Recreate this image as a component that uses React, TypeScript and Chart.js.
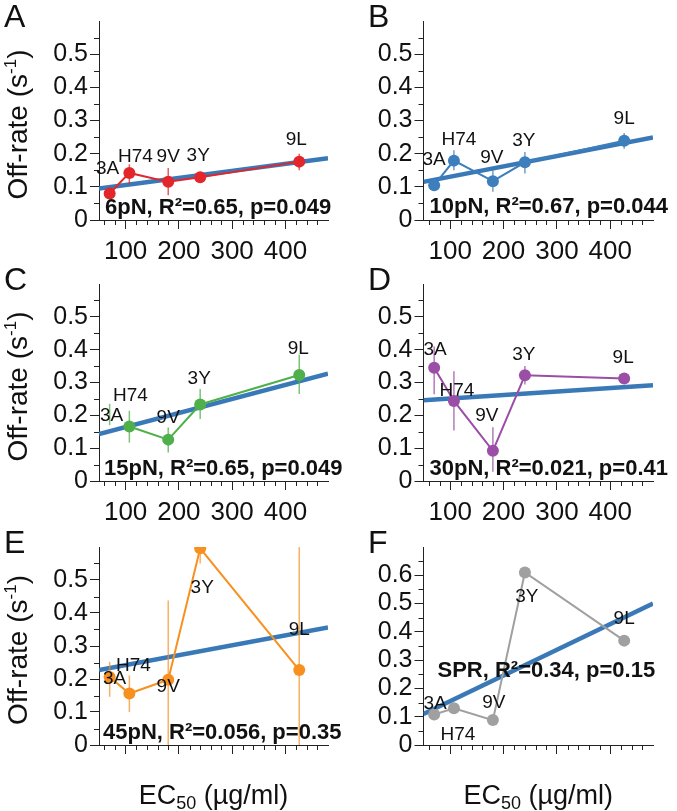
import React, { useEffect, useRef } from 'react';
import { Chart, registerables } from 'chart.js';

Chart.register(...registerables);

const FONT = '"Liberation Sans", Arial, Helvetica, sans-serif';

// ---------- data ----------
const strains = ['3A', 'H74', '9V', '3Y', '9L'];
const ec50 = [70, 107, 180, 240, 426];
const fitX = [50, 480];

const xTicks = [100, 200, 300, 400];
const xMinorTicks = [60, 80, 120, 140, 160, 180, 220, 240, 260, 280, 320, 340, 360, 380, 420, 440, 460];
const yTicksForce = [0, 0.1, 0.2, 0.3, 0.4, 0.5];
const yMinorForce = [0.05, 0.15, 0.25, 0.35, 0.45, 0.55];
const yTicksSpr = [0, 0.1, 0.2, 0.3, 0.4, 0.5, 0.6];
const yMinorSpr = [0.05, 0.15, 0.25, 0.35, 0.45, 0.55, 0.65];

const rate6 = [0.080, 0.142, 0.115, 0.129, 0.176];
const low6 = [0.065, 0.108, 0.075, 0.115, 0.150];
const high6 = [0.098, 0.168, 0.157, 0.145, 0.200];
const fit6 = [0.095, 0.186];

const rate10 = [0.105, 0.179, 0.117, 0.174, 0.239];
const low10 = [0.095, 0.150, 0.085, 0.140, 0.215];
const high10 = [0.115, 0.210, 0.150, 0.205, 0.262];
const fit10 = [0.115, 0.249];

const rate15 = [null, 0.166, 0.126, 0.233, 0.323];
const low15 = [0.170, 0.117, 0.087, 0.189, 0.265];
const high15 = [0.235, 0.214, 0.163, 0.280, 0.385];
const fit15 = [0.143, 0.327];

const rate30 = [0.345, 0.244, 0.092, 0.322, 0.312];
const low30 = [0.264, 0.154, 0.028, 0.294, 0.302];
const high30 = [0.410, 0.334, 0.164, 0.350, 0.322];
const fit30 = [0.246, 0.292];

const rate45 = [0.206, 0.156, 0.198, 0.596, 0.227];
const low45 = [0.146, 0.100, -0.01, 0.550, -0.01];
const high45 = [0.252, 0.211, 0.438, 0.640, 0.650];
const fit45 = [0.227, 0.356];

const rateSpr = [0.108, 0.130, 0.088, 0.610, 0.369];
const lowSpr = [null, null, null, null, null];
const highSpr = [null, null, null, null, null];
const fitSpr = [0.110, 0.500];

const stat6 = '6pN, R²=0.65, p=0.049';
const stat10 = '10pN, R²=0.67, p=0.044';
const stat15 = '15pN, R²=0.65, p=0.049';
const stat30 = '30pN, R²=0.021, p=0.41';
const stat45 = '45pN, R²=0.056, p=0.35';
const statSpr = 'SPR, R²=0.34, p=0.15';

// ---------- layout / style ----------
const FIT_COLOR = '#3a79b7';
const LEFT_CANVAS = { left: 0, width: 345 };
const RIGHT_CANVAS = { left: 337, width: 340 };
const ROWS = [
  { top: 0, height: 265, plotTop: 21, plotBottom: 220 },
  { top: 260, height: 268, plotTop: 284, plotBottom: 481 },
  { top: 522, height: 289, plotTop: 547, plotBottom: 745 },
];
const COLS = [
  { canvas: LEFT_CANVAS, plotLeft: 99, plotRight: 328, letterX: 4 },
  { canvas: RIGHT_CANVAS, plotLeft: 423.5, plotRight: 653, letterX: 368 },
];

type Panel = {
  letter: string; row: number; col: number;
  color: string; errColor: string;
  values: (number | null)[]; low: (number | null)[]; high: (number | null)[];
  fit: number[]; stat: string; statDx: number; statDy: number;
  yMax: number; yTicks: number[]; yMinor: number[];
  yTitle: boolean; xLabels: boolean; xTitle: boolean;
  labelOffsets: number[][];
};

const panels: Panel[] = [
  {
    letter: 'A', row: 0, col: 0, color: '#e3262b', errColor: 'rgba(227,38,43,0.75)',
    values: rate6, low: low6, high: high6, fit: fit6, stat: stat6, statDx: 6, statDy: -6,
    yMax: 0.6, yTicks: yTicksForce, yMinor: yMinorForce, yTitle: true, xLabels: true, xTitle: false,
    labelOffsets: [[-2, -25], [6, -16], [0, -25], [-2, -21], [-3, -22]],
  },
  {
    letter: 'B', row: 0, col: 1, color: '#3d7ebd', errColor: 'rgba(61,126,189,0.75)',
    values: rate10, low: low10, high: high10, fit: fit10, stat: stat10, statDx: 6, statDy: -7,
    yMax: 0.6, yTicks: yTicksForce, yMinor: yMinorForce, yTitle: false, xLabels: true, xTitle: false,
    labelOffsets: [[0, -25], [5, -21], [-1, -23], [-1, -22], [0, -22]],
  },
  {
    letter: 'C', row: 1, col: 0, color: '#4fb04b', errColor: 'rgba(79,176,75,0.75)',
    values: rate15, low: low15, high: high15, fit: fit15, stat: stat15, statDx: 5, statDy: -6,
    yMax: 0.6, yTicks: yTicksForce, yMinor: yMinorForce, yTitle: true, xLabels: true, xTitle: false,
    labelOffsets: [[2, 1], [1, -31], [0, -22], [-1, -26], [-1, -26]],
  },
  {
    letter: 'D', row: 1, col: 1, color: '#9b4ea6', errColor: 'rgba(155,78,166,0.75)',
    values: rate30, low: low30, high: high30, fit: fit30, stat: stat30, statDx: 6, statDy: -6,
    yMax: 0.6, yTicks: yTicksForce, yMinor: yMinorForce, yTitle: false, xLabels: true, xTitle: false,
    labelOffsets: [[1, -18], [3, -10], [-6, -35], [-1, -21], [-1, -21]],
  },
  {
    letter: 'E', row: 2, col: 0, color: '#f7901e', errColor: 'rgba(247,144,30,0.7)',
    values: rate45, low: low45, high: high45, fit: fit45, stat: stat45, statDx: 4, statDy: -6,
    yMax: 0.6, yTicks: yTicksForce, yMinor: yMinorForce, yTitle: true, xLabels: false, xTitle: true,
    labelOffsets: [[5, 2], [4, -28], [0, 7], [2, 39], [0, -40]],
  },
  {
    letter: 'F', row: 2, col: 1, color: '#a0a0a0', errColor: 'rgba(160,160,160,0.75)',
    values: rateSpr, low: lowSpr, high: highSpr, fit: fitSpr, stat: statSpr, statDx: 14, statDy: -68,
    yMax: 0.7, yTicks: yTicksSpr, yMinor: yMinorSpr, yTitle: false, xLabels: false, xTitle: true,
    labelOffsets: [[1, -11], [4, 27], [1, -17], [2, 24], [0, -22]],
  },
];

function fmtTick(v: number) {
  if (v === 0) return '0';
  return (Math.round(v * 10) / 10).toString();
}

function drawParts(ctx: CanvasRenderingContext2D, parts: { t: string; size: number; dy: number }[], cx: number, cy: number) {
  let total = 0;
  parts.forEach((p) => {
    ctx.font = `${p.size}px ${FONT}`;
    total += ctx.measureText(p.t).width;
  });
  let x = cx - total / 2;
  ctx.textAlign = 'left';
  ctx.textBaseline = 'alphabetic';
  parts.forEach((p) => {
    ctx.font = `${p.size}px ${FONT}`;
    ctx.fillText(p.t, x, cy + p.dy);
    x += ctx.measureText(p.t).width;
  });
}

function PanelChart({ p }: { p: Panel }) {
  const ref = useRef<HTMLCanvasElement | null>(null);
  const row = ROWS[p.row];
  const col = COLS[p.col];
  const cv = { left: col.canvas.left, width: col.canvas.width, top: row.top, height: row.height };

  useEffect(() => {
    if (!ref.current) return;
    const yWidth = col.plotLeft - cv.left;
    const padRight = cv.left + cv.width - col.plotRight;
    const padTop = row.plotTop - cv.top;
    const xHeight = cv.top + cv.height - row.plotBottom;

    const overlay = {
      id: 'overlay' + p.letter,
      afterDatasetDraw(chart: any, args: any) {
        if (args.index !== 1) return;
        const { ctx, chartArea: a } = chart;
        const xs = chart.scales.x;
        const ys = chart.scales.y;
        ctx.save();
        ctx.beginPath();
        ctx.rect(a.left, a.top, a.right - a.left, a.bottom - a.top);
        ctx.clip();
        ctx.strokeStyle = p.errColor;
        ctx.lineWidth = 1.5;
        p.low.forEach((lo, i) => {
          const hi = p.high[i];
          if (lo == null || hi == null) return;
          const px = xs.getPixelForValue(ec50[i]);
          ctx.beginPath();
          ctx.moveTo(px, ys.getPixelForValue(lo));
          ctx.lineTo(px, ys.getPixelForValue(hi));
          ctx.stroke();
        });
        ctx.restore();
      },
      afterDraw(chart: any) {
        const { ctx, chartArea: a } = chart;
        const xs = chart.scales.x;
        const ys = chart.scales.y;
        ctx.save();
        // minor ticks
        ctx.strokeStyle = '#222';
        ctx.lineWidth = 1;
        ctx.beginPath();
        xMinorTicks.forEach((v) => {
          const px = Math.round(xs.getPixelForValue(v)) + 0.5;
          ctx.moveTo(px, a.bottom);
          ctx.lineTo(px, a.bottom + 5);
        });
        p.yMinor.forEach((v) => {
          const py = Math.round(ys.getPixelForValue(v)) + 0.5;
          ctx.moveTo(a.left - 5, py);
          ctx.lineTo(a.left, py);
        });
        ctx.stroke();

        // point labels
        ctx.fillStyle = '#111';
        ctx.font = `19px ${FONT}`;
        ctx.textAlign = 'center';
        ctx.textBaseline = 'middle';
        strains.forEach((s, i) => {
          let v = p.values[i];
          if (v == null) {
            const lo = p.low[i], hi = p.high[i];
            v = lo != null && hi != null ? (lo + hi) / 2 : 0;
          }
          const px = xs.getPixelForValue(ec50[i]);
          const py = ys.getPixelForValue(v);
          const off = p.labelOffsets[i];
          ctx.fillText(s, px + off[0], py + off[1]);
        });

        // stats text
        ctx.font = `bold 22px ${FONT}`;
        ctx.textAlign = 'left';
        ctx.textBaseline = 'alphabetic';
        ctx.fillText(p.stat, a.left + p.statDx, a.bottom + p.statDy);

        // panel letter
        ctx.font = `32px ${FONT}`;
        ctx.fillText(p.letter, col.letterX - cv.left, a.top + 6);

        // y title
        if (p.yTitle) {
          ctx.save();
          ctx.translate(27, (a.top + a.bottom) / 2 + 4);
          ctx.rotate(-Math.PI / 2);
          drawParts(ctx, [
            { t: 'Off-rate (s', size: 28, dy: 0 },
            { t: '-1', size: 17, dy: -11 },
            { t: ')', size: 28, dy: 0 },
          ], 0, 0);
          ctx.restore();
        }
        // x title
        if (p.xTitle) {
          drawParts(ctx, [
            { t: 'EC', size: 27, dy: 0 },
            { t: '50', size: 18, dy: 5 },
            { t: ' (µg/ml)', size: 27, dy: 0 },
          ], (a.left + a.right) / 2, a.bottom + 59);
        }
        ctx.restore();
      },
    };

    const chart = new Chart(ref.current, {
      type: 'scatter',
      data: {
        datasets: [
          {
            label: 'off-rate',
            data: strains.map((_, i) => ({ x: ec50[i], y: p.values[i] })) as any,
            showLine: true,
            spanGaps: false,
            borderColor: p.color,
            borderWidth: 2,
            pointRadius: 6,
            pointBackgroundColor: p.color,
            pointBorderWidth: 0,
          },
          {
            label: 'fit',
            data: fitX.map((x, i) => ({ x, y: p.fit[i] })),
            showLine: true,
            borderColor: FIT_COLOR,
            borderWidth: 4.5,
            pointRadius: 0,
          },
        ],
      },
      options: {
        responsive: false,
        animation: false,
        events: [],
        layout: { autoPadding: false, padding: { left: 0, right: padRight, top: padTop, bottom: 0 } },
        plugins: { legend: { display: false }, tooltip: { enabled: false }, title: { display: false } },
        scales: {
          x: {
            type: 'linear',
            min: 50,
            max: 480,
            position: 'bottom',
            afterBuildTicks: (s: any) => { s.ticks = xTicks.map((v) => ({ value: v })); },
            afterFit: (s: any) => { s.height = xHeight; },
            grid: { drawOnChartArea: false, drawTicks: true, tickLength: 9, color: '#222', lineWidth: 1 },
            border: { display: true, color: '#222', width: 1 },
            ticks: {
              display: p.xLabels,
              color: '#111',
              font: { size: 26, family: FONT },
              padding: 7,
              maxRotation: 0,
              autoSkip: false,
              callback: (v: any) => String(v),
            },
          },
          y: {
            type: 'linear',
            min: 0,
            max: p.yMax,
            position: 'left',
            afterBuildTicks: (s: any) => { s.ticks = p.yTicks.map((v) => ({ value: v })); },
            afterFit: (s: any) => { s.width = yWidth; },
            grid: { drawOnChartArea: false, drawTicks: true, tickLength: 9, color: '#222', lineWidth: 1 },
            border: { display: true, color: '#222', width: 1 },
            ticks: {
              color: '#111',
              font: { size: 25, family: FONT },
              padding: 2,
              autoSkip: false,
              callback: (v: any) => fmtTick(Number(v)),
            },
          },
        },
      },
      plugins: [overlay],
    } as any);
    return () => chart.destroy();
  }, []);

  return (
    <canvas
      ref={ref}
      width={cv.width}
      height={cv.height}
      style={{ position: 'absolute', left: cv.left, top: cv.top, width: cv.width, height: cv.height }}
    />
  );
}

export default function App() {
  return (
    <div style={{ position: 'absolute', left: 0, top: 0, width: 677, height: 811, background: '#fff', overflow: 'hidden' }}>
      {panels.map((p) => (
        <PanelChart key={p.letter} p={p} />
      ))}
    </div>
  );
}
